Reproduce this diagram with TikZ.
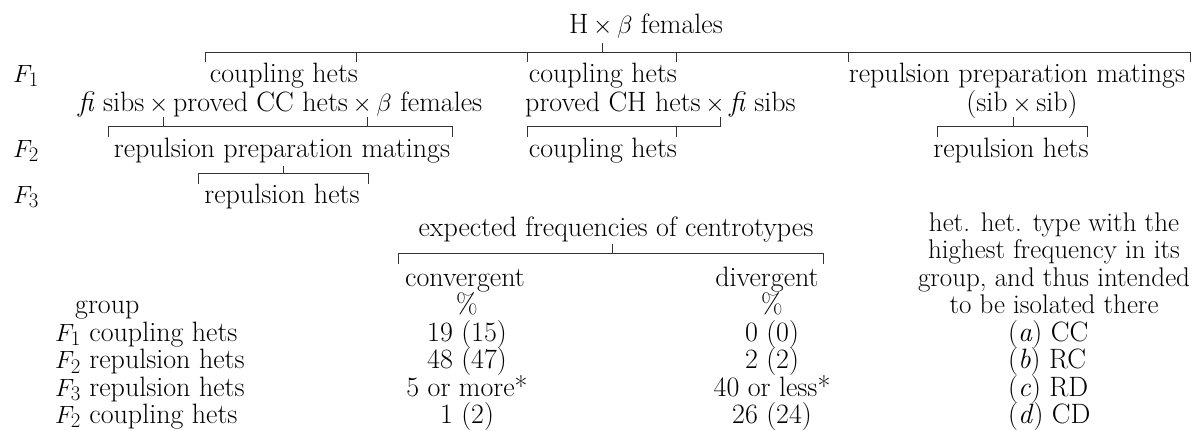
\documentclass[tikz,border=0pt]{standalone}
\begin{document}
\begin{tikzpicture}[x=1pt,y=-1pt,
  t/.style={anchor=base,inner sep=0pt,font=\fontsize{28}{30}\selectfont},
  tl/.style={t,anchor=base west},
  tp/.style={t,font=\fontsize{27}{29}\selectfont},
  brk/.style={line width=0.8pt,black!80}]
\useasboundingbox (0,0) rectangle (1200,431);
% ---- genealogy ----
\node[t] (hb) at (646,33) {H\,$\times$\,$\beta$ females};
\node[tl] (f1) at (13,82) {$F_1$};
\node[tl] (f2) at (13,157) {$F_2$};
\node[tl] (f3) at (13,203) {$F_3$};
\node[t] (c1) at (284,82) {coupling hets};
\node[t] (c2) at (603,82) {coupling hets};
\node[t] (r1) at (1017,82) {repulsion preparation matings};
\node[tl] (m1) at (78,111) {\textit{fi} sibs\,$\times$\,proved CC hets\,$\times$\,$\beta$ females};
\node[tl] (m2) at (525,111) {proved CH hets\,$\times$\,\textit{fi} sibs};
\node[t] (m3) at (1022,111) {(sib\,$\times$\,sib)};
\node[t] (p2) at (282,157) {repulsion preparation matings};
\node[t] (c3) at (603,157) {coupling hets};
\node[t] (r2) at (1011,157) {repulsion hets};
\node[t] (r3) at (282,203) {repulsion hets};
% brackets
\draw[brk] (602,43) -- (602,52);
\draw[brk] (205,62) -- (205,52) -- (1190,52) -- (1190,62);
\foreach \x in {356,527,676,848} \draw[brk] (\x,52) -- (\x,62);
\draw[brk] (108,137) -- (108,126) -- (452,126) -- (452,137);
\foreach \x in {163,367} \draw[brk] (\x,117) -- (\x,126);
\draw[brk] (527,137) -- (527,126) -- (720,126) -- (720,117);
\draw[brk] (676,126) -- (676,137);
\draw[brk] (937,137) -- (937,126) -- (1087,126) -- (1087,137);
\draw[brk] (1013,117) -- (1013,126);
\draw[brk] (198,184) -- (198,173) -- (368,173) -- (368,184);
\draw[brk] (283,166) -- (283,173);
% ---- table ----
\node[t] (ex) at (616,236) {expected frequencies of centrotypes};
\draw[brk] (612,244) -- (612,253);
\draw[brk] (398,264) -- (398,253) -- (823,253) -- (823,264);
\node[t] (cv) at (465,286) {convergent};
\node[t] (dv) at (767,286) {divergent};
\node[t] (pc1) at (467,313.5) {\%};
\node[t] (pc2) at (772,313.5) {\%};
\node[tl] (grp) at (75,313.5) {group};
\node[tp] (h1) at (1054,231) {het. het. type with the};
\node[tp] (h2) at (1054,258.5) {highest frequency in its};
\node[tp] (h3) at (1054,286) {group, and thus intended};
\node[tp] (h4) at (1054,313.5) {to be isolated there};
\foreach \y/\lab/\cv/\dv/\ty [count=\i] in
  {341/{$F_1$ coupling hets}/{19 (15)}/{0 (0)}/{(\textit{a}) CC},
   368.5/{$F_2$ repulsion hets}/{48 (47)}/{2 (2)}/{(\textit{b}) RC},
   396/{$F_3$ repulsion hets}/{5 or more*}/{40 or less*}/{(\textit{c}) RD},
   423/{$F_2$ coupling hets}/{1 (2)}/{26 (24)}/{(\textit{d}) CD}} {
  \node[tl] (g\i) at (55,\y) {\lab};
  \node[t] (v\i) at (467,\y) {\cv};
  \node[t] (w\i) at (772,\y) {\dv};
  \node[tl] (k\i) at (1008,\y) {\ty};
}
\end{tikzpicture}
\end{document}
